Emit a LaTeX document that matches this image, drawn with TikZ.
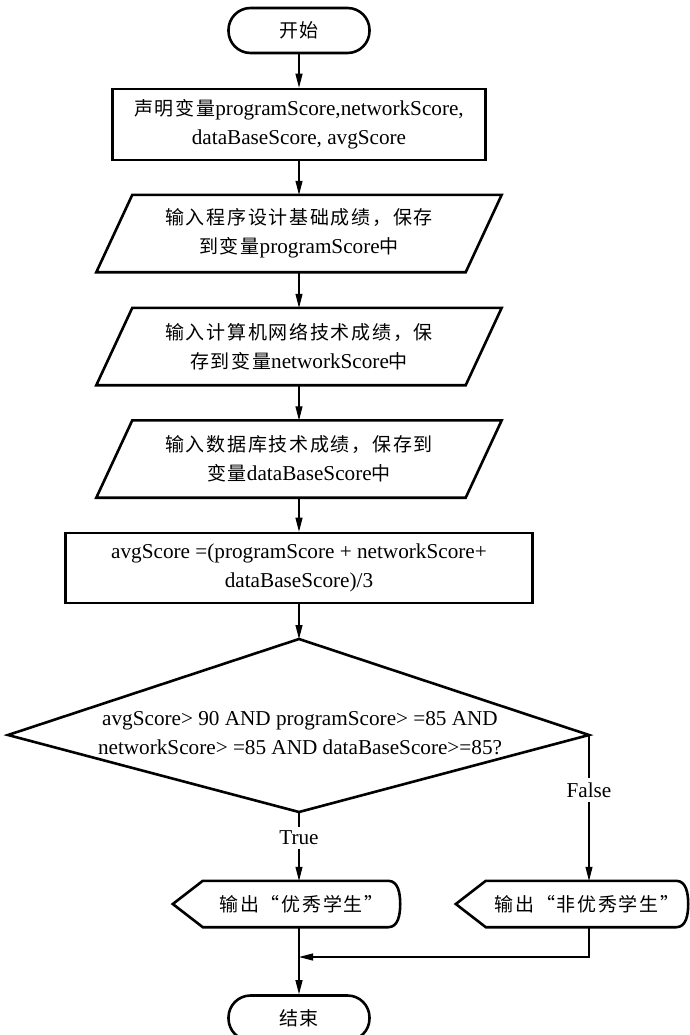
\documentclass[tikz,border=0pt]{standalone}
\usepackage{fontspec}
\setmainfont{Liberation Serif}
\newfontfamily\cjkfont[LetterSpace=9]{Noto Sans CJK SC}
\usetikzlibrary{arrows.meta}
\newcommand\zhtxt[1]{{\cjkfont\fontsize{19}{29}\selectfont #1}}

\begin{document}
\begin{tikzpicture}[x=1pt,y=-1pt,
  every node/.style={font=\fontsize{21.2}{29}\selectfont, inner sep=0pt},
  outline/.style={draw, line width=2.6pt, line join=miter},
  terminal/.style={outline, rounded corners=22pt, minimum width=141pt, minimum height=45pt},
  procbox/.style={outline, align=center, minimum height=71pt},
  iobody/.style={align=center, minimum width=369pt, minimum height=77pt},
  showbody/.style={minimum height=46pt},
  lbl/.style={inner sep=4pt},
  link/.style={line width=1.1pt},
  arr/.style={line width=1.1pt, -{Triangle[length=14pt,width=7pt]}}]

% page and background
\fill[white] (0,0) rectangle (690,1035);
\useasboundingbox (0,0) rectangle (690,1035);

% start
\node[terminal] (start) at (299,30.5) {\zhtxt{开始}};

% declaration
\node[procbox, minimum width=373pt] (decl) at (299,124.5)
  {\zhtxt{声明变量}programScore,networkScore,\\dataBaseScore, avgScore};

% three input steps (parallelograms drawn around plain text nodes)
\node[iobody] (in1) at (299,233.5)
  {\zhtxt{输入程序设计基础成绩，保存}\\\zhtxt{到变量}programScore\zhtxt{中}};
\node[iobody] (in2) at (299,346.5)
  {\zhtxt{输入计算机网络技术成绩，保}\\\zhtxt{存到变量}networkScore\zhtxt{中}};
\node[iobody] (in3) at (299,459)
  {\zhtxt{输入数据库技术成绩，保存到}\\\zhtxt{变量}dataBaseScore\zhtxt{中}};
\foreach \n in {in1,in2,in3}{
  \draw[outline] ([xshift=18pt]\n.north west) -- ([xshift=18pt]\n.north east)
    -- ([xshift=-18pt]\n.south east) -- ([xshift=-18pt]\n.south west) -- cycle;
}

% average
\node[procbox, minimum width=467pt, minimum height=70pt] (calc) at (299,568)
  {avgScore =(programScore + networkScore+\\dataBaseScore)/3};

% decision
\coordinate (dtop) at (299,639);
\coordinate (dleft) at (8,735);
\coordinate (dright) at (589,735);
\coordinate (dbot) at (299,812);
\draw[outline] (dtop) -- (dright) -- (dbot) -- (dleft) -- cycle;
\node[align=center] (cond) at (300,733)
  {avgScore> 90 AND programScore> =85 AND\\networkScore> =85 AND dataBaseScore>=85?};

% branch labels
\node[lbl] (tl) at (299,838) {True};
\node[lbl] (fl) at (589,790) {False};

% outputs
\node[showbody, minimum width=197pt] (out1) at (301.5,904) {\zhtxt{输出“优秀学生”}};
\node[showbody, minimum width=202pt] (out2) at (587,904) {\zhtxt{输出“非优秀学生”}};
\foreach \n in {out1,out2}{
  \draw[outline] ([xshift=-30pt]\n.west) -- (\n.north west)
    -- ([xshift=-12pt]\n.north east) to[out=0,in=90] (\n.east)
    to[out=-90,in=0] ([xshift=-12pt]\n.south east) -- (\n.south west) -- cycle;
}

% end
\node[terminal] (end) at (299,1018) {\zhtxt{结束}};

% connectors
\draw[arr] (start) -- (decl);
\draw[arr] (decl) -- (in1);
\draw[arr] (in1) -- (in2);
\draw[arr] (in2) -- (in3);
\draw[arr] (in3) -- (calc);
\draw[arr] (calc) -- (dtop);
\draw[link] (dbot) -- (tl);
\draw[arr] (tl) -- (tl |- out1.north);
\draw[link] (dright) -- (fl);
\draw[arr] (fl) -- (fl |- out2.north);
\coordinate (mj) at (299,957);
\draw[arr] (fl |- out2.south) |- (mj);
\draw[arr] (tl |- out1.south) -- (end);
\end{tikzpicture}
\end{document}
